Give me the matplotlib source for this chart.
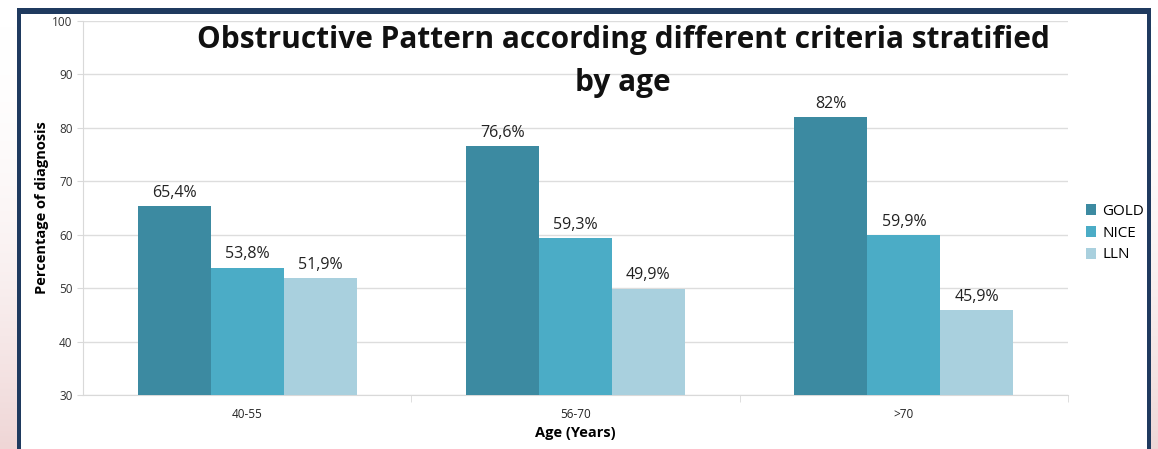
import numpy as np
import matplotlib

matplotlib.use("Agg")
import matplotlib.pyplot as plt
from matplotlib.patches import Rectangle

# Data
age_groups = ["40-55", "56-70", ">70"]
series_names = ["GOLD", "NICE", "LLN"]
gold = [65.4, 76.6, 82.0]
nice = [53.8, 59.3, 59.9]
lln = [51.9, 49.9, 45.9]
gold_labels = ["65,4%", "76,6%", "82%"]
nice_labels = ["53,8%", "59,3%", "59,9%"]
lln_labels = ["51,9%", "49,9%", "45,9%"]
y_ticks = [30, 40, 50, 60, 70, 80, 90, 100]
title_lines = ["Obstructive Pattern according different criteria stratified", "by age"]

colors = ["#3C8AA1", "#4BACC6", "#A9D0DE"]
font = ["Open Sans", "DejaVu Sans"]
plt.rcParams["font.family"] = font

W, H = 1158, 449
fig = plt.figure(figsize=(W / 100, H / 100), dpi=100)

# background: faint pink gradient outside the frame
bg = fig.add_axes([0, 0, 1, 1], zorder=-10)
grad = np.linspace(0, 1, 256).reshape(-1, 1) ** 2
bg.imshow(grad, cmap=matplotlib.colors.LinearSegmentedColormap.from_list(
    "pk", ["#ffffff", "#efd6d6"]), aspect="auto", extent=[0, 1, 0, 1], origin="upper")
bg.set_xlim(0, 1)
bg.set_ylim(0, 1)
bg.axis("off")
# white inner panel and navy frame
bg.add_patch(Rectangle((19 / W, 0), (1150 - 19) / W, 1 - 11 / H,
                       facecolor="white", edgecolor="none"))
navy = "#1F3A5F"
bg.add_patch(Rectangle((17 / W, 0), 4 / W, 1 - 8 / H, facecolor=navy, edgecolor="none"))
bg.add_patch(Rectangle((1147 / W, 0), 4 / W, 1 - 8 / H, facecolor=navy, edgecolor="none"))
bg.add_patch(Rectangle((17 / W, 1 - 14 / H), (1151 - 17) / W, 6 / H,
                       facecolor=navy, edgecolor="none"))

left, right, top, bottom = 83, 1068, 21, 395
ax = fig.add_axes([left / W, 1 - bottom / H, (right - left) / W, (bottom - top) / H])
ax.set_facecolor("none")

x = np.arange(len(age_groups))
bw = 0.222
for i, (vals, labs, name) in enumerate(zip([gold, nice, lln],
                                          [gold_labels, nice_labels, lln_labels],
                                          series_names)):
    pos = x + (i - 1) * bw
    ax.bar(pos, np.array(vals) - 30, bottom=30, width=bw, color=colors[i],
           label=name, zorder=3)
    for p, v, t in zip(pos, vals, labs):
        ax.text(p, v + 1.0, t, ha="center", va="bottom", fontsize=11.5,
                color="#222222", zorder=4)

ax.set_xlim(-0.5, 2.5)
ax.set_ylim(30, 100)
ax.set_yticks(y_ticks)
ax.tick_params(axis="y", labelsize=8.5, colors="#333333", length=4, color="#d9d9d9")
ax.grid(axis="y", color="#dddddd", linewidth=1, zorder=0)
ax.set_xticks(x)
ax.set_xticklabels(age_groups, fontsize=8.5, color="#222222")
ax.tick_params(axis="x", length=0, pad=9)
ax.set_xticks([0.5, 1.5, 2.5], minor=True)
ax.tick_params(axis="x", which="minor", length=5, color="#d9d9d9")
for s in ["top", "right"]:
    ax.spines[s].set_visible(False)
ax.spines["left"].set_color("#d9d9d9")
ax.spines["bottom"].set_color("#d9d9d9")

ax.set_xlabel("Age (Years)", fontsize=10.5, fontweight="bold", labelpad=4)
ax.set_ylabel("Percentage of diagnosis", fontsize=10.5, fontweight="bold", labelpad=2)

# title as two centred lines
for line, yc in zip(title_lines, [40, 83]):
    fig.text(623 / W, 1 - yc / H, line, ha="center", va="center", fontsize=21.5,
             fontweight="bold", color="#111111")

leg = fig.legend(loc="upper left", bbox_to_anchor=(1072 / W, 1 - 190 / H),
                 frameon=False, fontsize=11, handlelength=0.7, handleheight=0.7,
                 handletextpad=0.4, labelspacing=0.45)

fig.savefig("out.png", dpi=100)
